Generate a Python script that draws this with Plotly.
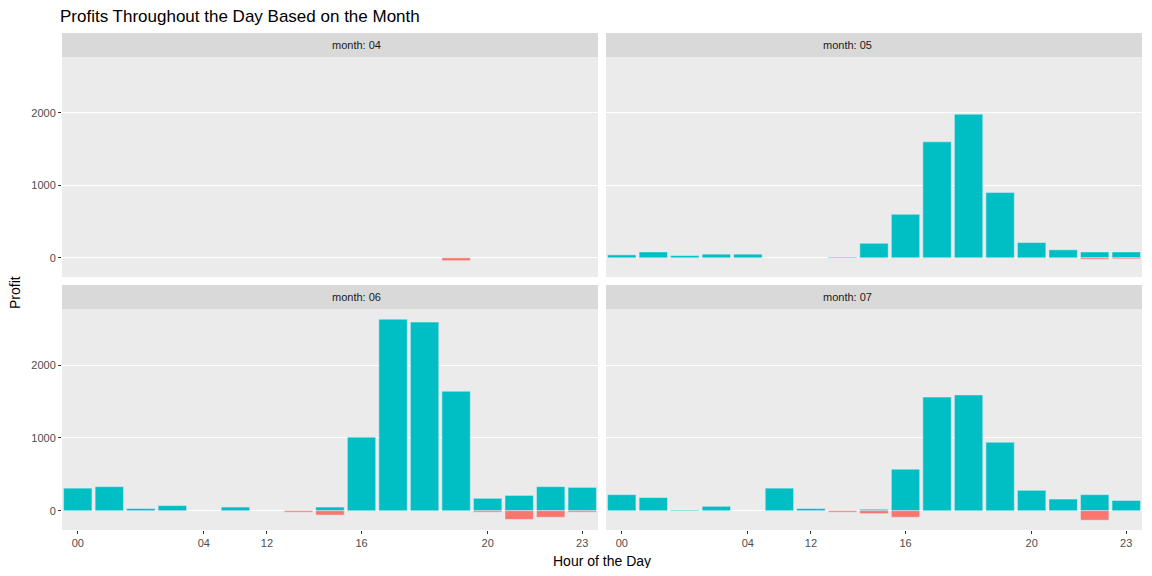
import plotly.graph_objects as go

# hour categories as they appear on the x axis (17 slots)
hours = ["00", "01", "02", "03", "04", "05", "12", "13", "14", "16", "17",
         "18", "19", "20", "21", "22", "23"]
shown_ticks = ["00", "04", "12", "16", "20", "23"]
months = ["04", "05", "06", "07"]

# profit gains and losses per hour, per month (None = no bar)
gain_04 = [None] * 17
loss_04 = [None, None, None, None, None, None, None, None, None, None, None, None, -40, None, None, None, None]
gain_05 = [40, 80, 30, 50, 50, None, None, 10, 200, 600, 1600, 1980, 900, 210, 110, 80, 80]
loss_05 = [None, None, None, None, None, None, None, None, None, None, None, None, None, None, None, -20, -15]
gain_06 = [310, 330, 30, 70, None, 50, None, None, 50, 1010, 2630, 2590, 1640, 170, 210, 330, 320]
loss_06 = [None, None, None, None, None, None, None, -20, -60, None, None, None, None, -20, -120, -90, -20]
gain_07 = [220, 180, 10, 60, None, 310, 30, None, 20, 570, 1560, 1590, 940, 280, 160, 220, 140]
loss_07 = [None, None, None, None, None, None, None, -20, -40, -90, None, None, None, None, None, -130, None]

gains = [gain_04, gain_05, gain_06, gain_07]
losses = [loss_04, loss_05, loss_06, loss_07]

TEAL = "#00BFC4"
RED = "#F8766D"
W, H = 1152, 576
OFF = 8  # page body margin
FW, FH = W - 2 * OFF, H - 2 * OFF


def px(x):
    return (x - OFF) / FW


def py(y):
    return 1 - (y - OFF) / FH


# panel boxes in pixels: (x0, x1, y0, y1) of plotting area
boxes = [(62, 598, 57, 277), (606, 1142, 57, 277),
         (62, 598, 309, 530), (606, 1142, 309, 530)]

fig = go.Figure()
layout = {}
shapes = []
annotations = []

for i, (m, g, l) in enumerate(zip(months, gains, losses)):
    n = i + 1
    xa = "x" if n == 1 else f"x{n}"
    ya = "y" if n == 1 else f"y{n}"
    fig.add_trace(go.Bar(x=hours, y=g, marker_color=TEAL, xaxis=xa, yaxis=ya,
                         showlegend=False, hoverinfo="skip"))
    fig.add_trace(go.Bar(x=hours, y=l, marker_color=RED, xaxis=xa, yaxis=ya,
                         showlegend=False, hoverinfo="skip"))
    x0, x1, y0, y1 = boxes[i]
    bottom = i >= 2
    left = i % 2 == 0
    layout[f"xaxis{'' if n == 1 else n}"] = dict(
        domain=[px(x0), px(x1)], anchor=ya, type="category",
        categoryorder="array", categoryarray=hours,
        tickvals=shown_ticks, showticklabels=bottom, ticks="outside" if bottom else "",
        ticklen=3, tickcolor="#333333", showgrid=False, zeroline=False,
        tickfont=dict(size=11, color="#4D4D4D"), showline=False,
    )
    layout[f"yaxis{'' if n == 1 else n}"] = dict(
        domain=[py(y1), py(y0)], anchor=xa, range=[-265, 2770],
        tickvals=[0, 1000, 2000], showticklabels=left, ticks="outside" if left else "",
        ticklen=3, tickcolor="#333333", gridcolor="white", gridwidth=1,
        zeroline=False, tickfont=dict(size=11, color="#4D4D4D"),
    )
    shapes.append(dict(type="rect", xref="paper", yref="paper",
                       x0=px(x0), x1=px(x1), y0=py(y1), y1=py(y0),
                       fillcolor="#EBEBEB", line_width=0, layer="below"))
    shapes.append(dict(type="rect", xref="paper", yref="paper",
                       x0=px(x0), x1=px(x1), y0=py(y0), y1=py(y0 - 24),
                       fillcolor="#D9D9D9", line_width=0))
    annotations.append(dict(text=f"month: {m}", xref="paper", yref="paper",
                            x=px((x0 + x1) / 2), y=py(y0 - 12), yanchor="middle",
                            showarrow=False, font=dict(size=11, color="#1A1A1A")))

annotations.append(dict(text="Hour of the Day", xref="paper", yref="paper",
                        x=px(602), y=py(561), yanchor="middle", showarrow=False,
                        font=dict(size=14, color="black")))
annotations.append(dict(text="Profit", xref="paper", yref="paper", textangle=-90,
                        x=px(15), y=py(293), xanchor="center", showarrow=False,
                        font=dict(size=14, color="black")))

fig.update_layout(
    **layout,
    barmode="relative",
    bargap=0.1,
    width=FW, height=FH,
    margin=dict(l=0, r=0, t=0, b=0),
    paper_bgcolor="white",
    plot_bgcolor="rgba(0,0,0,0)",
    font=dict(family="Liberation Sans, Arial, sans-serif"),
    title=dict(text="Profits Throughout the Day Based on the Month",
               x=px(60), xanchor="left", y=py(16), yanchor="middle",
               font=dict(size=17, color="black")),
    shapes=shapes,
    annotations=annotations,
)

fig.write_html("out.html")
